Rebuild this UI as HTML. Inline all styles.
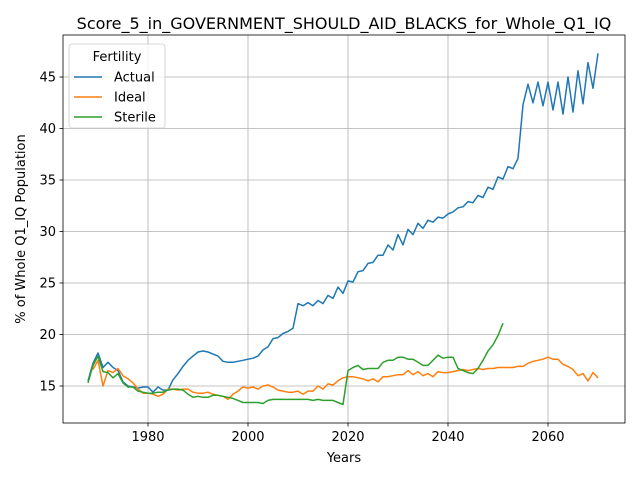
<!DOCTYPE html>
<html><head><meta charset="utf-8"><style>
body{margin:0;background:#fff;font-family:"Liberation Sans","DejaVu Sans",sans-serif}
svg text{font-family:"DejaVu Sans","Liberation Sans",sans-serif}
</style></head><body>
<svg id="chart" width="640" height="480" viewBox="0 0 640 480" xmlns="http://www.w3.org/2000/svg"></svg>
<script>
const years = []; for (let y = 1968; y <= 2070; y++) years.push(y);
const xTicks = [1980, 2000, 2020, 2040, 2060];
const yTicks = [15, 20, 25, 30, 35, 40, 45];
const actual = [15.5,17.2,18.2,16.8,17.3,16.8,16.5,15.4,15.0,14.9,14.8,14.9,14.9,14.4,14.9,14.6,14.6,15.6,16.2,16.9,17.5,17.9,18.3,18.4,18.3,18.1,17.9,17.4,17.3,17.3,17.4,17.5,17.6,17.7,17.9,18.5,18.8,19.6,19.7,20.1,20.3,20.6,23.0,22.8,23.1,22.8,23.3,23.0,23.8,23.5,24.6,24.0,25.2,25.1,26.1,26.2,26.9,27.0,27.7,27.7,28.7,28.2,29.7,28.7,30.2,29.7,30.8,30.3,31.1,30.9,31.4,31.3,31.7,31.9,32.3,32.4,32.9,32.8,33.5,33.3,34.3,34.1,35.3,35.1,36.3,36.1,37.1,42.3,44.3,42.5,44.5,42.2,44.5,41.8,44.5,41.4,45.0,41.6,45.6,42.4,46.4,43.9,47.3];
const ideal = [null,16.6,17.5,15.0,16.5,16.3,16.7,16.0,15.7,15.3,14.7,14.3,14.3,14.2,14.0,14.2,14.7,14.7,14.6,14.7,14.7,14.4,14.3,14.3,14.4,14.2,14.1,14.0,13.7,14.2,14.5,14.9,14.8,14.9,14.7,15.0,15.1,14.9,14.6,14.5,14.4,14.4,14.5,14.2,14.5,14.5,15.0,14.7,15.2,15.1,15.5,15.8,15.9,15.9,15.8,15.7,15.5,15.7,15.4,15.9,15.9,16.0,16.1,16.1,16.5,16.1,16.4,16.0,16.2,15.9,16.4,16.3,16.3,16.4,16.5,16.6,16.5,16.6,16.7,16.6,16.7,16.7,16.8,16.8,16.8,16.8,16.9,16.9,17.2,17.4,17.5,17.6,17.8,17.6,17.6,17.1,16.9,16.6,16.0,16.2,15.5,16.3,15.8];
const sterile = [15.3,17.0,17.9,16.4,16.3,15.8,16.2,15.3,14.9,14.9,14.5,14.4,14.3,14.3,14.4,14.4,14.6,14.7,14.7,14.6,14.2,13.9,14.0,13.9,13.9,14.1,14.1,14.0,13.9,13.8,13.6,13.4,13.4,13.4,13.4,13.3,13.6,13.7,13.7,13.7,13.7,13.7,13.7,13.7,13.7,13.6,13.7,13.6,13.6,13.6,13.4,13.2,16.5,16.8,17.0,16.6,16.7,16.7,16.7,17.3,17.5,17.5,17.8,17.8,17.6,17.6,17.3,17.0,17.0,17.5,18.0,17.7,17.8,17.8,16.7,16.5,16.3,16.2,16.7,17.5,18.4,19.0,19.9,21.1];
const seriesNames = ["Actual","Ideal","Sterile"];
const seriesColors = ["#1f77b4","#ff7f0e","#2ca02c"];
const seriesData = [actual, ideal, sterile];

const L=63,R=625,T=35,B=423;
const xs = v => 148 + (v-1980)*5;
const ys = v => 386 - (v-15)*10.3;
const svg = document.getElementById('chart');
const NS='http://www.w3.org/2000/svg';
function mk(tag, attrs, parent){const e=document.createElementNS(NS,tag);for(const k in attrs)e.setAttribute(k,attrs[k]);(parent||svg).appendChild(e);return e;}

const title = mk('text',{x:344,y:29,'text-anchor':'middle','font-size':16,fill:'#000'});


title.textContent='Score_5_in_GOVERNMENT_SHOULD_AID_BLACKS_for_Whole_Q1_IQ';

const grid = mk('g',{});


xTicks.forEach(t=>{
  const x=xs(t);
  const gl=mk('line',{x1:x,x2:x,y1:T,y2:B,stroke:'#b0b0b0','stroke-width':0.8},grid);
  
  
  mk('line',{x1:x,x2:x,y1:B,y2:B+3.5,stroke:'#000','stroke-width':0.8});
  const tl=mk('text',{x:x,y:B+18,'text-anchor':'middle','font-size':13,fill:'#000'});
  
  
  tl.textContent=t;
});
yTicks.forEach(t=>{
  const y=ys(t);
  const gl=mk('line',{x1:L,x2:R,y1:y,y2:y,stroke:'#b0b0b0','stroke-width':0.8},grid);
  
  
  mk('line',{x1:L-3.5,x2:L,y1:y,y2:y,stroke:'#000','stroke-width':0.8});
  const tl=mk('text',{x:L-7,y:y+4.5,'text-anchor':'end','font-size':13,fill:'#000'});
  
  
  tl.textContent=t;
});

seriesData.forEach((arr,i)=>{
  let d='',pen=false;
  arr.forEach((v,j)=>{
    if(v===null){pen=false;return;}
    d+=(pen?'L':'M')+xs(years[j]).toFixed(1)+','+ys(v).toFixed(1);pen=true;
  });
  const p=mk('path',{d:d,fill:'none',stroke:seriesColors[i],'stroke-width':1.5,'stroke-linejoin':'round'});
  
  
});

const frame=mk('rect',{x:L,y:T,width:R-L,height:B-T,fill:'none',stroke:'#000','stroke-width':0.8});



const xl=mk('text',{x:344,y:462,'text-anchor':'middle','font-size':13,fill:'#000'});


xl.textContent='Years';
const yl=mk('text',{x:0,y:0,'text-anchor':'middle','font-size':13,fill:'#000',transform:'translate(25,229) rotate(-90)'});


yl.textContent='% of Whole Q1_IQ Population';

const lg=mk('g',{});


mk('rect',{x:69,y:44,width:96,height:84,rx:3,fill:'#fff','fill-opacity':0.8,stroke:'#ccc','stroke-width':0.8},lg);
const lt=mk('text',{x:117,y:61,'text-anchor':'middle','font-size':13,fill:'#000'},lg);


lt.textContent='Fertility';
seriesNames.forEach((n,i)=>{
  const y=77+i*20;
  const e=mk('g',{},lg);
  
  
  mk('line',{x1:74,x2:102,y1:y,y2:y,stroke:seriesColors[i],'stroke-width':1.5},e);
  const t=mk('text',{x:114,y:y+4.5,'font-size':13,fill:'#000'},e);
  t.textContent=n;
});
</script>
</body></html>
